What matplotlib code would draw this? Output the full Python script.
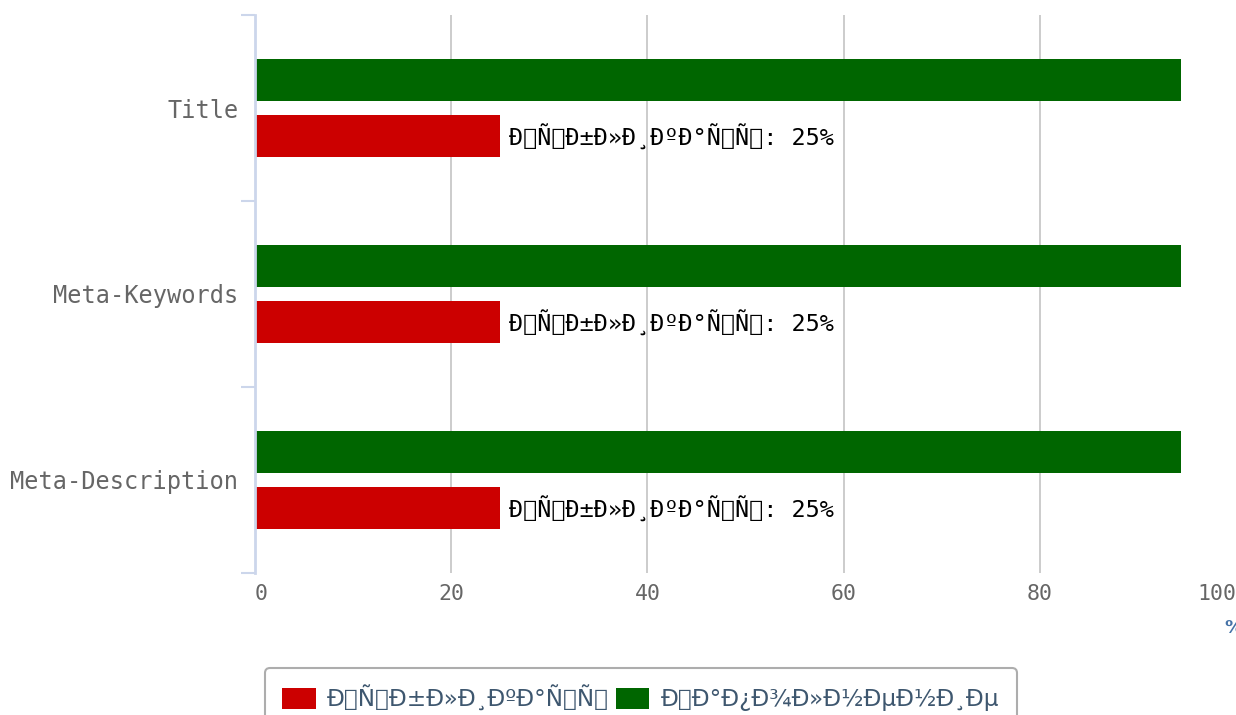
import matplotlib.pyplot as plt
import numpy as np
from matplotlib.patches import Patch

# the source page decoded utf-8 as latin-1, so the labels show up garbled
def garble(s):
    return s.encode("utf-8").decode("latin-1")

categories = ["Title", "Meta-Keywords", "Meta-Description"]
dup_name = garble("Дубликаты")
fill_name = garble("Заполнение")
dup_values = [25, 25, 25]
fill_values = [94.4, 94.4, 94.4]
x_ticks = [0, 20, 40, 60, 80, 100]

red = "#cc0000"
green = "#006600"
axis_col = "#ccd6eb"

fig = plt.figure(figsize=(12.36, 7.15), dpi=100)
ax = fig.add_axes([255 / 1236, 1 - 573 / 715, 1 - 255 / 1236, (573 - 15) / 715])

y = np.arange(len(categories))
h = 0.228
ax.barh(y - 0.15, fill_values, height=h, color=green, zorder=3)
ax.barh(y + 0.15, dup_values, height=h, color=red, zorder=3)

for yi, v in zip(y, dup_values):
    ax.text(v + 0.9, yi + 0.16, f"{dup_name}: {v}%", va="center", ha="left",
            fontsize=16.8, family="DejaVu Sans Mono", color="black", zorder=4)

ax.set_xlim(0, 100)
ax.set_ylim(2.5, -0.5)
ax.set_xticks(x_ticks)
ax.set_xticklabels([str(t) for t in x_ticks], family="DejaVu Sans Mono",
                   fontsize=15.5, color="#666666")
lbls = ax.get_xticklabels()
lbls[0].set_ha("left")
lbls[-1].set_ha("right")
ax.tick_params(axis="x", length=0, pad=8)

ax.set_yticks(y)
ax.set_yticklabels(categories, family="DejaVu Sans Mono", fontsize=17, color="#666666")
ax.tick_params(axis="y", length=0, pad=12)
# band boundary ticks on the category axis
ax.set_yticks(np.arange(-0.5, 3.0, 1.0), minor=True)
ax.tick_params(axis="y", which="minor", length=10, width=1.5, color=axis_col)

ax.grid(axis="x", color="#c8c8c8", linewidth=1.3, zorder=0)
ax.xaxis.get_gridlines()[-1].set_visible(False)
for s in ["top", "right", "bottom"]:
    ax.spines[s].set_visible(False)
ax.spines["left"].set_color(axis_col)
ax.spines["left"].set_linewidth(2)
ax.spines["left"].set_zorder(5)

fig.text(1224 / 1236, 1 - 628 / 715, "%", color="#4572a7", fontsize=13,
         fontweight="bold", va="center", ha="left")

handles = [Patch(facecolor=red, label=dup_name), Patch(facecolor=green, label=fill_name)]
leg = fig.legend(handles=handles, loc="upper left", bbox_to_anchor=(265 / 1236, 1 - 668 / 715),
                 ncol=2, frameon=True, fancybox=True, fontsize=16.7, handlelength=1.43,
                 handleheight=1.04, handletextpad=0.5, columnspacing=0.3, borderpad=0.75,
                 borderaxespad=0)
leg.get_frame().set_edgecolor("#999999")
leg.get_frame().set_linewidth(1.5)
for t in leg.get_texts():
    t.set_color("#3e576f")

fig.savefig("out.png", dpi=100)
